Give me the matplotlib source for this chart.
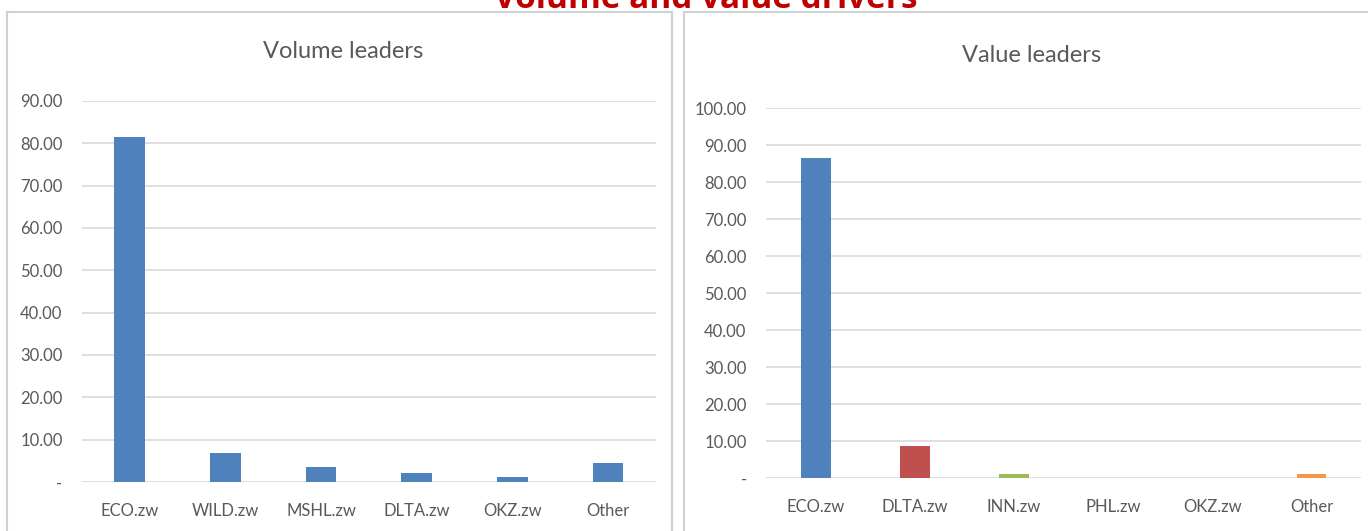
import matplotlib.pyplot as plt
from matplotlib.patches import Rectangle
from matplotlib.ticker import FuncFormatter

volume_names = ["ECO.zw", "WILD.zw", "MSHL.zw", "DLTA.zw", "OKZ.zw", "Other"]
volume_values = [81.5, 6.9, 3.5, 2.1, 1.2, 4.5]

value_names = ["ECO.zw", "DLTA.zw", "INN.zw", "PHL.zw", "OKZ.zw", "Other"]
value_values = [86.5, 8.6, 1.0, 0.0, 0.0, 1.0]
value_colors = ["#4F81BD", "#C0504D", "#9BBB59", "#8064A2", "#4BACC6", "#F79646"]

tick_font = ["Lato", "DejaVu Sans"]


def fmt(v, pos):
    if abs(v) < 1e-9:
        return "-"
    return f"{v:.2f}"


def style_axis(ax, ymax):
    ax.set_ylim(0, ymax)
    ax.set_yticks(range(0, ymax + 1, 10))
    ax.yaxis.set_major_formatter(FuncFormatter(fmt))
    ax.grid(axis="y", color="#D9D9D9", linewidth=1.2)
    ax.set_axisbelow(True)
    for s in ax.spines.values():
        s.set_visible(False)
    ax.tick_params(axis="both", length=0, colors="#595959", labelsize=12)
    ax.tick_params(axis="y", pad=14)
    ax.tick_params(axis="x", pad=15)
    for lab in ax.get_xticklabels() + ax.get_yticklabels():
        lab.set_family(tick_font)
    ax.set_xlim(-0.5, 5.5)


fig = plt.figure(figsize=(13.68, 5.31), dpi=100)

# panel frames
fig.patches.append(Rectangle((7 / 1368, -0.05), 665 / 1368, 1.05 - 12 / 531,
                             transform=fig.transFigure, fill=False,
                             edgecolor="#D0D0D0", linewidth=1.5))
fig.patches.append(Rectangle((684 / 1368, -0.05), 700 / 1368, 1.05 - 12 / 531,
                             transform=fig.transFigure, fill=False,
                             edgecolor="#D0D0D0", linewidth=1.5))

ax1 = fig.add_axes([0.0599, 0.0923, 0.4196, 0.7175])
ax1.bar(range(len(volume_names)), volume_values, width=0.32, color="#4F81BD")
ax1.set_xticks(range(len(volume_names)))
ax1.set_xticklabels(volume_names)
style_axis(ax1, 90)

ax2 = fig.add_axes([0.560, 0.0998, 0.435, 0.6968])
ax2.bar(range(len(value_names)), value_values, width=0.3, color=value_colors)
ax2.set_xticks(range(len(value_names)))
ax2.set_xticklabels(value_names)
style_axis(ax2, 100)

fig.text(343 / 1368, 1 - 52 / 531, "Volume leaders", ha="center", va="center",
         fontsize=17, color="#595959", family=tick_font)
fig.text(1032 / 1368, 1 - 56 / 531, "Value leaders", ha="center", va="center",
         fontsize=17, color="#595959", family=tick_font)

fig.text(706 / 1368, 1 - 8 / 531, "Volume and value drivers", ha="center",
         va="baseline", fontsize=24, fontweight="bold", color="#C00000",
         family="Open Sans")

plt.savefig("out.png", dpi=100)
